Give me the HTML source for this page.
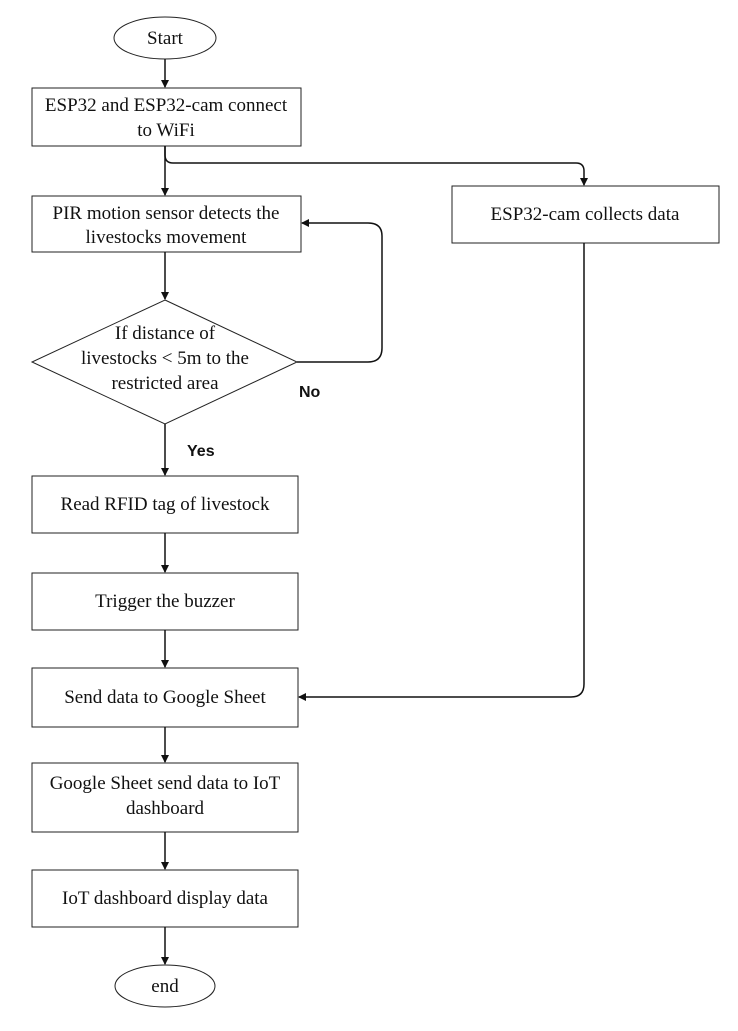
<!DOCTYPE html>
<html><head><style>
html,body{margin:0;padding:0;background:#fff;}
svg text{font-family:"Liberation Serif",serif;font-size:19px;fill:#111;}
.b{font-family:"Liberation Sans",sans-serif;font-weight:bold;font-size:16px;}
</style></head><body>
<svg width="738" height="1026" viewBox="0 0 738 1026" xmlns="http://www.w3.org/2000/svg">
<defs><marker id="a" markerWidth="8" markerHeight="8" refX="7" refY="4" orient="auto" markerUnits="userSpaceOnUse"><path d="M0,0 L8,4 L0,8 z" fill="#111"/></marker></defs>
<g fill="none" stroke="#222" stroke-width="1">
<ellipse cx="165" cy="38" rx="51" ry="21"/>
<rect x="32" y="88" width="269" height="58"/>
<rect x="32" y="196" width="269" height="56"/>
<rect x="452" y="186" width="267" height="57"/>
<polygon points="165,300 297,362 165,424 32,362"/>
<rect x="32" y="476" width="266" height="57"/>
<rect x="32" y="573" width="266" height="57"/>
<rect x="32" y="668" width="266" height="59"/>
<rect x="32" y="763" width="266" height="69"/>
<rect x="32" y="870" width="266" height="57"/>
<ellipse cx="165" cy="986" rx="50" ry="21"/>
</g>
<g fill="none" stroke="#111" stroke-width="1.5" marker-end="url(#a)">
<path d="M165,59 V87"/>
<path d="M165,146 V195"/>
<path d="M165,146 V155 Q165,163 173,163 H576 Q584,163 584,171 V185"/>
<path d="M165,252 V299"/>
<path d="M297,362 H368 Q382,362 382,348 V236 Q382,223 368,223 H302"/>
<path d="M165,424 V475"/>
<path d="M165,533 V572"/>
<path d="M165,630 V667"/>
<path d="M584,243 V684 Q584,697 571,697 H299"/>
<path d="M165,727 V762"/>
<path d="M165,832 V869"/>
<path d="M165,927 V964"/>
</g>
<g text-anchor="middle">
<text x="165" y="44">Start</text>
<text x="166" y="111">ESP32 and ESP32-cam connect</text>
<text x="166" y="136">to WiFi</text>
<text x="166" y="219">PIR motion sensor detects the</text>
<text x="166" y="243">livestocks movement</text>
<text x="585" y="220">ESP32-cam collects data</text>
<text x="165" y="339">If distance of</text>
<text x="165" y="364">livestocks &lt; 5m to the</text>
<text x="165" y="389">restricted area</text>
<text x="165" y="510">Read RFID tag of livestock</text>
<text x="165" y="607">Trigger the buzzer</text>
<text x="165" y="703">Send data to Google Sheet</text>
<text x="165" y="789">Google Sheet send data to IoT</text>
<text x="165" y="814">dashboard</text>
<text x="165" y="904">IoT dashboard display data</text>
<text x="165" y="992">end</text>
</g>
<text class="b" x="299" y="397">No</text>
<text class="b" x="187" y="456">Yes</text>
</svg>
</body></html>
